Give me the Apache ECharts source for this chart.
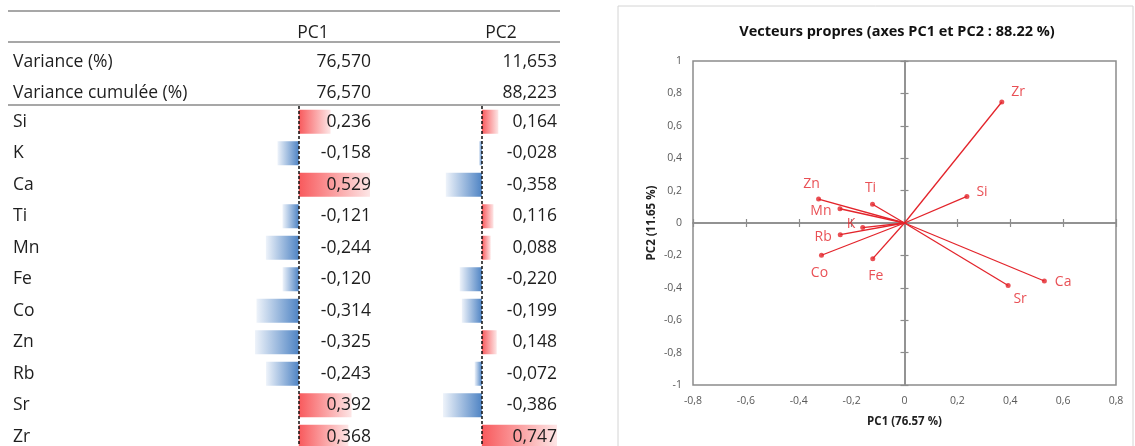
<!DOCTYPE html>
<html>
<head>
<meta charset="utf-8">
<title>Vecteurs propres</title>
<script src="https://cdn.jsdelivr.net/npm/echarts@6/dist/echarts.min.js"></script>
<style>
    html, body { margin: 0; padding: 0; background: #fff; }
    #main { width: 1135px; height: 446px; }
</style>
</head>
<body>
<div id="main"></div>
<script>
// données de l'ACP
var elements = ['Si', 'K', 'Ca', 'Ti', 'Mn', 'Fe', 'Co', 'Zn', 'Rb', 'Sr', 'Zr']
var pc1 = [0.236, -0.158, 0.529, -0.121, -0.244, -0.120, -0.314, -0.325, -0.243, 0.392, 0.368]
var pc2 = [0.164, -0.028, -0.358, 0.116, 0.088, -0.220, -0.199, 0.148, -0.072, -0.386, 0.747]
var components = ['PC1', 'PC2']
var varianceRows = ['Variance (%)', 'Variance cumulée (%)']
var variance = [76.570, 11.653]
var varianceCum = [76.570, 88.223]

var FONT = '"Open Sans", "Noto Sans", sans-serif'
var RED = '#e3242b'
var TXT = '#1e1e1e'
var TABLE_FONT = 17.5

// placement des étiquettes du cercle
var labelPlace = {
    Zr: { position: 'right', offset: [2, -10] },
    Si: { position: 'right', offset: [2, -4] },
    Ca: { position: 'right', offset: [3, 1] },
    Sr: { position: 'bottom', offset: [12, -1] },
    Ti: { position: 'top', offset: [-2, -2] },
    Zn: { position: 'top', offset: [-7, -1] },
    Mn: { position: 'left', offset: [-1, 2] },
    K: { position: 'left', offset: [0, -4] },
    Rb: { position: 'left', offset: [-1, 2] },
    Co: { position: 'bottom', offset: [-2, 3] },
    Fe: { position: 'bottom', offset: [3, 3] }
}

function fr(v, d) {
    return v.toFixed(d).replace('.', ',')
}
function tickFr(v) {
    return String(Math.round(v * 10) / 10).replace('.', ',')
}
function barFill(v) {
    if (v >= 0) {
        return new echarts.graphic.LinearGradient(0, 0, 1, 0, [
            { offset: 0, color: '#f8595c' }, { offset: 1, color: '#fde6e6' }])
    }
    return new echarts.graphic.LinearGradient(0, 0, 1, 0, [
        { offset: 0, color: '#eef3fa' }, { offset: 1, color: '#4f84c4' }])
}

// mise en page du tableau
var tableLeft = 8, tableRight = 560
var rowTop = 106, rowH = 31.5
var colCenter = [313, 501]
var colRight = [371, 557]
var pcMin = [-0.325, -0.386], pcMax = [0.529, 0.747]
var barLeft = [255, 443], barWidthPx = [115, 114]

var graphics = []
;[11, 42, 105].forEach(function (y) {
    graphics.push({
        type: 'line', silent: true,
        shape: { x1: tableLeft, y1: y, x2: tableRight, y2: y },
        style: { stroke: '#8a8a8a', lineWidth: 1.3 }
    })
})
components.forEach(function (c, k) {
    graphics.push({
        type: 'text', x: colCenter[k], y: 33,
        style: { text: c, font: TABLE_FONT + 'px ' + FONT, fill: TXT, textAlign: 'center', textVerticalAlign: 'middle' }
    })
})
;[variance, varianceCum].forEach(function (vals, r) {
    var y = r === 0 ? 62 : 93.5
    graphics.push({
        type: 'text', x: 13, y: y,
        style: { text: varianceRows[r], font: TABLE_FONT + 'px ' + FONT, fill: TXT, textAlign: 'left', textVerticalAlign: 'middle' }
    })
    vals.forEach(function (v, k) {
        graphics.push({
            type: 'text', x: colRight[k], y: y,
            style: { text: fr(v, 3), font: TABLE_FONT + 'px ' + FONT, fill: TXT, textAlign: 'right', textVerticalAlign: 'middle' }
        })
    })
})
// cadre du graphique
graphics.push({
    type: 'rect', silent: true,
    shape: { x: 618, y: 6, width: 515, height: 460 },
    style: { fill: 'none', stroke: '#d4d4d4', lineWidth: 1 }
})
graphics.push({
    type: 'text', x: 897, y: 32,
    style: { text: 'Vecteurs propres (axes PC1 et PC2 : 88.22 %)', font: 'bold 14.5px ' + FONT, fill: '#111', textAlign: 'center', textVerticalAlign: 'middle' }
})

var gridBars = [0, 1].map(function (k) {
    return { left: barLeft[k], top: rowTop, width: barWidthPx[k], height: rowH * elements.length, outerBoundsMode: 'none' }
})
var plotGrid = { left: 693, right: 19, top: 61, bottom: 61, show: true, borderColor: '#8c8c8c', borderWidth: 1.5, outerBoundsMode: 'none' }

function hiddenValueAxis(k) {
    return {
        type: 'value', gridIndex: k, min: pcMin[k], max: pcMax[k],
        axisLine: { show: false }, axisTick: { show: false }, axisLabel: { show: false }, splitLine: { show: false }
    }
}

var zeroLine = { show: true, onZero: true, lineStyle: { color: '#8c8c8c', width: 1.5 } }
var axisLabelStyle = { fontFamily: FONT, fontSize: 10.5, color: '#595959', showMinLabel: true, showMaxLabel: true }

var xAxes = [
    hiddenValueAxis(0),
    hiddenValueAxis(1),
    {
        type: 'value', gridIndex: 2, min: -0.8, max: 0.8, interval: 0.2, position: 'bottom',
        axisLine: { show: false, onZero: false }, axisTick: { show: false }, splitLine: { show: false },
        axisLabel: Object.assign({ margin: 11, formatter: tickFr }, axisLabelStyle),
        name: 'PC1 (76.57 %)', nameLocation: 'middle', nameGap: 31,
        nameTextStyle: { fontFamily: FONT, fontSize: 11.5, fontWeight: 'bold', color: '#222' }
    },
    {
        type: 'value', gridIndex: 2, min: -0.8, max: 0.8, interval: 0.2, position: 'bottom',
        axisLine: Object.assign({ onZeroAxisIndex: 3 }, zeroLine),
        axisTick: { show: true, inside: false, length: 4, lineStyle: { color: '#8c8c8c', width: 1.2 } },
        axisLabel: { show: false }, splitLine: { show: false }
    },
    {
        type: 'value', gridIndex: 2, min: -0.8, max: 0.8, interval: 0.2, position: 'bottom',
        axisLine: Object.assign({ onZeroAxisIndex: 3 }, zeroLine),
        axisTick: { show: true, inside: true, length: 4, lineStyle: { color: '#8c8c8c', width: 1.2 } },
        axisLabel: { show: false }, splitLine: { show: false }
    }
]

var yAxes = [
    {
        type: 'category', gridIndex: 0, data: elements, inverse: true, position: 'left', z: 5,
        axisLine: { show: false, onZero: false }, axisTick: { show: false },
        axisLabel: { interval: 0, align: 'left', margin: barLeft[0] - 13, fontFamily: FONT, fontSize: TABLE_FONT, color: TXT }
    },
    {
        type: 'category', gridIndex: 0, data: elements, inverse: true, position: 'right', z: 5,
        axisLine: { show: false, onZero: false }, axisTick: { show: false },
        axisLabel: {
            interval: 0, align: 'right', margin: colRight[0] - barLeft[0] - barWidthPx[0],
            fontFamily: FONT, fontSize: TABLE_FONT, color: TXT,
            formatter: function (v, i) { return fr(pc1[i], 3) }
        }
    },
    {
        type: 'category', gridIndex: 1, data: elements, inverse: true, position: 'right', z: 5,
        axisLine: { show: false, onZero: false }, axisTick: { show: false },
        axisLabel: {
            interval: 0, align: 'right', margin: colRight[1] - barLeft[1] - barWidthPx[1],
            fontFamily: FONT, fontSize: TABLE_FONT, color: TXT,
            formatter: function (v, i) { return fr(pc2[i], 3) }
        }
    },
    {
        type: 'value', gridIndex: 2, min: -1, max: 1, interval: 0.2, position: 'left',
        axisLine: { show: false, onZero: false }, axisTick: { show: false }, splitLine: { show: false },
        axisLabel: Object.assign({ margin: 11, formatter: tickFr }, axisLabelStyle),
        name: 'PC2 (11.65 %)', nameLocation: 'middle', nameGap: 35, nameRotate: 90,
        nameTextStyle: { fontFamily: FONT, fontSize: 11.5, fontWeight: 'bold', color: '#222' }
    },
    {
        type: 'value', gridIndex: 2, min: -1, max: 1, interval: 0.2, position: 'left',
        axisLine: Object.assign({ onZeroAxisIndex: 2 }, zeroLine),
        axisTick: { show: true, inside: false, length: 4, lineStyle: { color: '#8c8c8c', width: 1.2 } },
        axisLabel: { show: false }, splitLine: { show: false }
    },
    {
        type: 'value', gridIndex: 2, min: -1, max: 1, interval: 0.2, position: 'left',
        axisLine: Object.assign({ onZeroAxisIndex: 2 }, zeroLine),
        axisTick: { show: true, inside: true, length: 4, lineStyle: { color: '#8c8c8c', width: 1.2 } },
        axisLabel: { show: false }, splitLine: { show: false }
    }
]

function dataBars(vals, k, yIdx) {
    return {
        type: 'bar', xAxisIndex: k, yAxisIndex: yIdx, barWidth: 24, silent: true, z: 1,
        data: vals.map(function (v) { return { value: v, itemStyle: { color: barFill(v) } } }),
        markLine: {
            silent: true, symbol: 'none', label: { show: false },
            lineStyle: { color: '#111', type: [3, 2], width: 1.5 },
            data: [{ xAxis: 0 }]
        }
    }
}

var option = {
    animation: false,
    textStyle: { fontFamily: FONT },
    graphic: graphics,
    grid: [gridBars[0], gridBars[1], plotGrid],
    xAxis: xAxes,
    yAxis: yAxes,
    series: [
        dataBars(pc1, 0, 0),
        dataBars(pc2, 1, 2),
        {
            type: 'lines', coordinateSystem: 'cartesian2d', xAxisIndex: 2, yAxisIndex: 3,
            silent: true,
            lineStyle: { color: RED, width: 1.3, opacity: 1 },
            data: elements.map(function (e, i) {
                return { coords: [[0, 0], [pc1[i], pc2[i]]] }
            })
        },
        {
            type: 'scatter', xAxisIndex: 2, yAxisIndex: 3, symbolSize: 5,
            itemStyle: { color: RED },
            label: { show: true, color: RED, fontFamily: FONT, fontSize: 14, formatter: '{b}' },
            data: elements.map(function (e, i) {
                return { name: e, value: [pc1[i], pc2[i]], label: labelPlace[e] }
            })
        }
    ]
}

var myChart = echarts.init(document.getElementById('main'))
myChart.setOption(option)
</script>
</body>
</html>
